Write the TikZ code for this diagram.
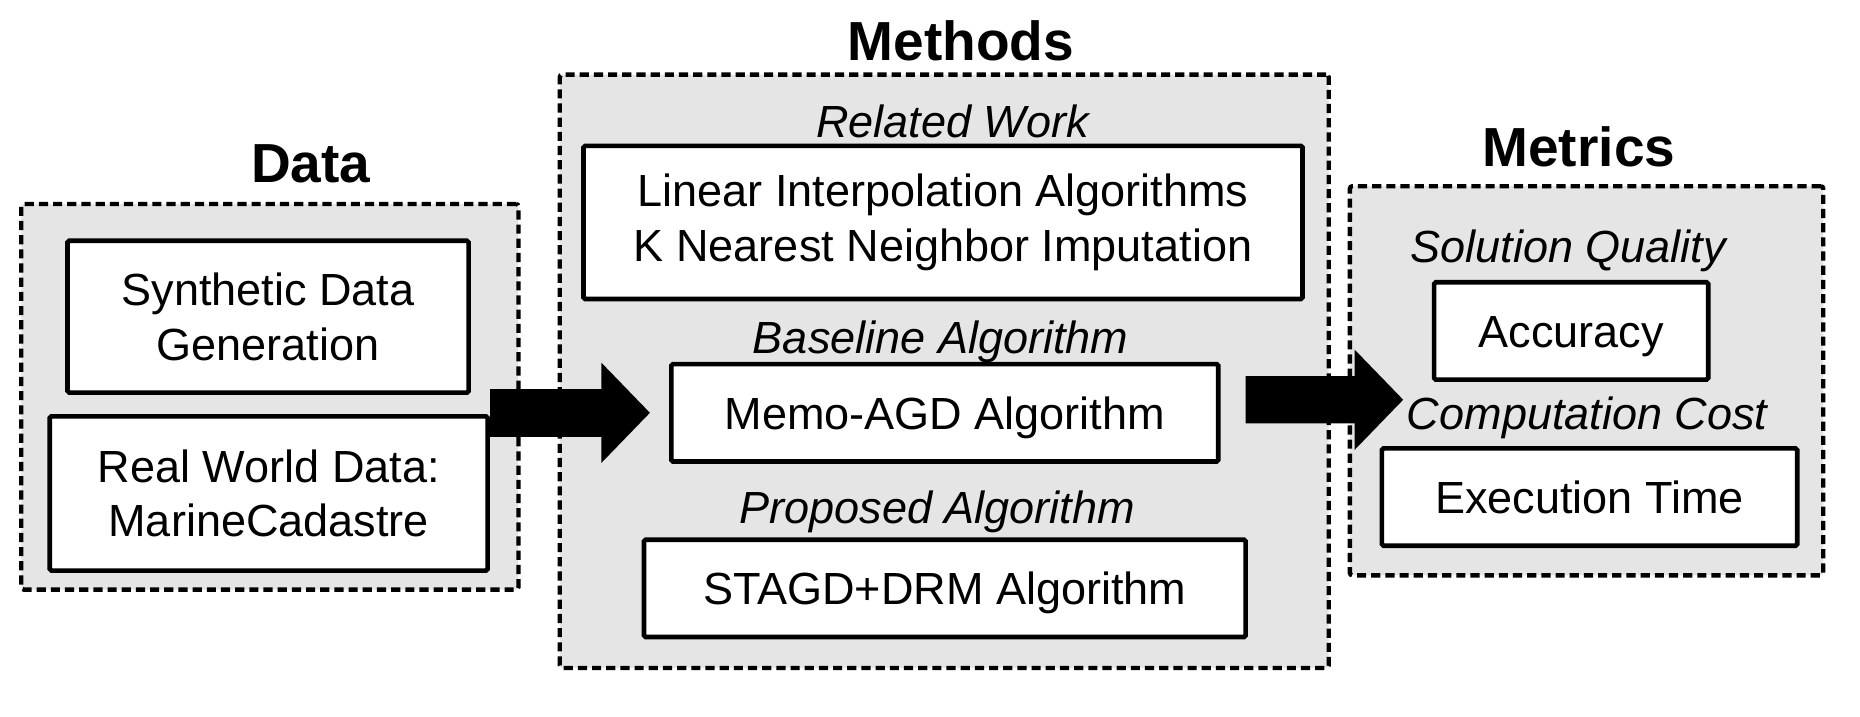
\documentclass[tikz,border=0pt]{standalone}
\usepackage{fontspec}
\setmainfont{Liberation Sans}
\usetikzlibrary{arrows.meta}

\begin{document}
\begin{tikzpicture}[x=0.025cm,y=-0.025cm]
	\tikzset{
		grp/.style={draw=black, fill=black!10, line width=2.6pt, dash pattern=on 5.5pt off 3pt, rounded corners=1.5pt},
		algbox/.style={draw=black, fill=white, line width=2.8pt, rounded corners=1pt, align=center, font=\fontsize{27}{32.7}\selectfont},
		onebox/.style={algbox, text height=19.5pt, text depth=0pt},
		ttl/.style={font=\fontsize{33}{40}\selectfont\bfseries},
		cat/.style={font=\fontsize{27}{32}\selectfont\itshape, text height=19.5pt, text depth=0pt},
		bigarrow/.style={line width=1cm, -{Triangle[length=1.025cm,width=2.05cm]}}
	}
	\useasboundingbox (0,0) rectangle (1568,604);

	%---GROUPS---
	\node[grp, minimum width=10.475cm, minimum height=8.125cm] (datagrp) at (227.5,334.5) {};
	\node[grp, minimum width=16.2cm, minimum height=12.5cm] (methgrp) at (796,313) {};
	\node[grp, minimum width=9.975cm, minimum height=8.2cm] (metgrp) at (1337.5,321) {};

	\node[ttl] (datattl) at (262,138) {Data};
	\node[ttl] (methttl) at (810,34) {Methods};
	\node[ttl] (metttl) at (1331,124) {Metrics};

	%---NODES---
	\node[algbox, minimum width=8.45cm, minimum height=3.2cm] (synth) at (226,267) {Synthetic Data\\Generation};
	\node[algbox, minimum width=9.225cm, minimum height=3.25cm] (real) at (226.5,416) {Real World Data:\\MarineCadastre};

	\node[cat] (relwork) at (803,102) {Related Work};
	\node[algbox, minimum width=15.15cm, minimum height=3.225cm] (linear) at (795,187.5) {Linear Interpolation Algorithms\\K Nearest Neighbor Imputation};
	\node[cat] (baseline) at (793,284) {Baseline Algorithm};
	\node[onebox, minimum width=11.525cm, minimum height=2.05cm] (memo) at (796.5,348) {Memo-AGD Algorithm};
	\node[cat] (proposed) at (790,428) {Proposed Algorithm};
	\node[onebox, minimum width=12.675cm, minimum height=2.05cm] (stagd) at (796.5,496) {STAGD+DRM Algorithm};

	\node[cat] (quality) at (1322,208) {Solution Quality};
	\node[onebox, minimum width=5.775cm, minimum height=2.05cm] (acc) at (1324.5,279) {Accuracy};
	\node[cat] (cost) at (1338,348) {Computation Cost};
	\node[onebox, minimum width=8.75cm, minimum height=2.05cm] (exec) at (1340,419) {Execution Time};

	%---EDGES---
	\coordinate (mtip) at (1183,337);
	\draw[bigarrow] (real.east |- memo.west) -- ([xshift=-0.4cm]memo.west);
	\draw[bigarrow] ([shift={(0.525cm,0.275cm)}]memo.east) -- (mtip);
\end{tikzpicture}
\end{document}
